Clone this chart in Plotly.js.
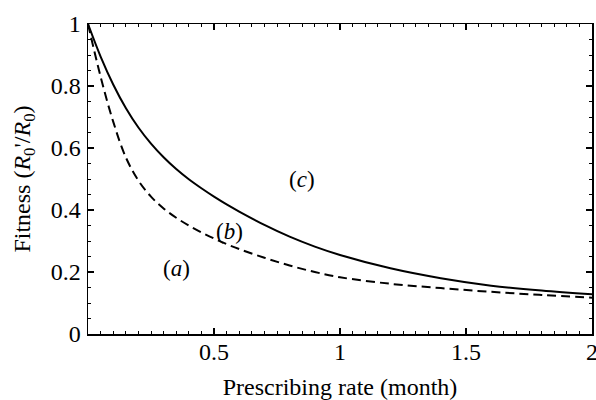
<!DOCTYPE html>
<html>
<head>
<meta charset="utf-8">
<script src="https://cdn.plot.ly/plotly-3.0.1.min.js"></script>
<style>html,body{margin:0;padding:0;background:#fff;}#chart{width:596px;height:400px;}</style>
</head>
<body>
<div id="chart"></div>
<script>
// Prescribing rate (month) and fitness values
var xSolid = [0, 0.05, 0.1, 0.15, 0.2, 0.25, 0.3, 0.35, 0.4, 0.45, 0.5, 0.55, 0.6, 0.7, 0.8, 0.9, 1.0, 1.2, 1.4, 1.6, 1.8, 2.0];
var ySolid = [1.0, 0.895, 0.805, 0.729, 0.666, 0.614, 0.570, 0.532, 0.499, 0.470, 0.443, 0.418, 0.395, 0.352, 0.314, 0.282, 0.255, 0.212, 0.180, 0.156, 0.140, 0.128];
var xDashed = [0, 0.05, 0.1, 0.15, 0.2, 0.25, 0.3, 0.35, 0.4, 0.45, 0.5, 0.55, 0.6, 0.7, 0.8, 0.9, 1.0, 1.2, 1.4, 1.6, 1.8, 2.0];
var yDashed = [1.0, 0.83, 0.685, 0.57, 0.495, 0.443, 0.405, 0.375, 0.35, 0.328, 0.308, 0.29, 0.274, 0.246, 0.221, 0.200, 0.183, 0.162, 0.148, 0.136, 0.126, 0.117];
var xTickVals = [0.5, 1, 1.5, 2];
var xTickText = ["0.5", "1", "1.5", "2"];
var yTickVals = [0, 0.2, 0.4, 0.6, 0.8, 1];
var yTickText = ["0", "0.2", "0.4", "0.6", "0.8", "1"];
var regionLabels = ["(<i>a</i>)", "(<i>b</i>)", "(<i>c</i>)"];
var regionX = [0.352, 0.563, 0.848];
var regionY = [0.212, 0.33, 0.497];

var font = "Liberation Serif";
var traces = [
  {x: xSolid, y: ySolid, mode: "lines", line: {color: "#000", width: 2, shape: "spline"}, hoverinfo: "skip"},
  {x: xDashed, y: yDashed, mode: "lines", line: {color: "#000", width: 2, dash: "9px,5px", shape: "spline"}, hoverinfo: "skip"}
];
var annotations = regionLabels.map(function (t, i) {
  return {x: regionX[i], y: regionY[i], text: t, showarrow: false, xref: "x", yref: "y",
          font: {family: font, size: 23, color: "#000"}};
});
var layout = {
  width: 596, height: 400,
  margin: {l: 88, r: 4, t: 24, b: 66},
  paper_bgcolor: "#fff", plot_bgcolor: "#fff",
  showlegend: false,
  font: {family: font, size: 24, color: "#000"},
  xaxis: {
    range: [0, 2], tickvals: xTickVals, ticktext: xTickText,
    ticks: "inside", ticklen: 6, tickwidth: 1.2, tickcolor: "#000",
    minor: {dtick: 0.05, tick0: 0, ticks: "inside", ticklen: 3, tickcolor: "#000", tickwidth: 1},
    showline: true, linecolor: "#000", linewidth: 1.5, mirror: "ticks",
    showgrid: false, zeroline: false,
    ticklabeloverflow: "allow", ticklabelstandoff: -4,
    tickfont: {family: font, size: 24},
    title: {text: "Prescribing rate (month)", font: {family: font, size: 24}, standoff: 15}
  },
  yaxis: {
    range: [0, 1], tickvals: yTickVals, ticktext: yTickText,
    ticks: "inside", ticklen: 6, tickwidth: 1.2, tickcolor: "#000",
    minor: {dtick: 0.05, tick0: 0, ticks: "inside", ticklen: 3, tickcolor: "#000", tickwidth: 1},
    showline: true, linecolor: "#000", linewidth: 1.5, mirror: "ticks",
    showgrid: false, zeroline: false,
    ticklabeloverflow: "allow", ticklabelstandoff: 1,
    tickfont: {family: font, size: 24},
    title: {text: "Fitness (<i>R</i><sub>0</sub>'/<i>R</i><sub>0</sub>)", font: {family: font, size: 24}, standoff: 13}
  },
  annotations: annotations
};
Plotly.newPlot("chart", traces, layout, {staticPlot: true, displayModeBar: false});
</script>
</body>
</html>
